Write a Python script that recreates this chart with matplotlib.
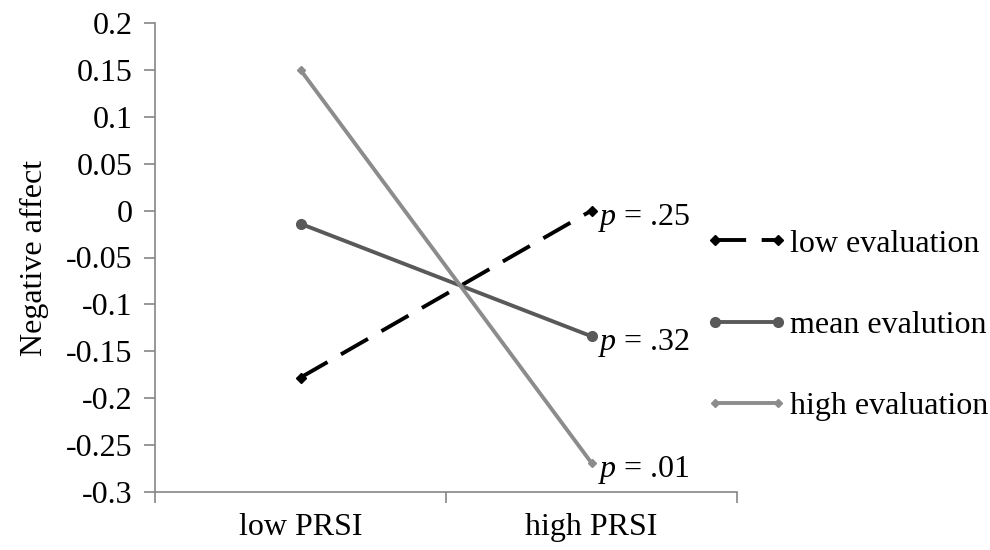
import matplotlib
matplotlib.use("Agg")
import matplotlib.pyplot as plt
from matplotlib.ticker import FixedLocator, NullFormatter

plt.rcParams['font.family'] = ['Liberation Serif', 'DejaVu Serif']
plt.rcParams['mathtext.fontset'] = 'custom'
plt.rcParams['mathtext.it'] = 'Liberation Serif:italic'
plt.rcParams['mathtext.rm'] = 'Liberation Serif'

categories = ["low PRSI", "high PRSI"]
low_eval = [-0.178, 0.0]
mean_eval = [-0.014, -0.134]
high_eval = [0.150, -0.269]
series_names = ["low evaluation", "mean evalution", "high evaluation"]
p_labels = ["$p$ = .25", "$p$ = .32", "$p$ = .01"]
yticks = [0.2, 0.15, 0.1, 0.05, 0, -0.05, -0.1, -0.15, -0.2, -0.25, -0.3]
ytick_labels = ["0.2", "0.15", "0.1", "0.05", "0", "-0.05", "-0.1", "-0.15", "-0.2", "-0.25", "-0.3"]

FS = 23
fig = plt.figure(figsize=(9.9, 5.5), dpi=100)
ax = fig.add_axes([155/990, 1-492/550, (737-155)/990, (492-23)/550])

xs = [0.5, 1.5]
lw = 2.8
l1, = ax.plot(xs, low_eval, color='black', lw=lw, dashes=(8, 4), marker='D', ms=5, label=series_names[0])
l2, = ax.plot(xs, mean_eval, color='#595959', lw=lw, marker='o', ms=7, label=series_names[1])
l3, = ax.plot(xs, high_eval, color='#8c8c8c', lw=lw, marker='D', ms=4.5, label=series_names[2])

for ser, lab in zip([low_eval, mean_eval, high_eval], p_labels):
    ax.annotate(lab, (xs[1], ser[1]), xytext=(5, -5), textcoords='offset points',
                va='center', ha='left', fontsize=FS)

ax.set_xlim(0, 2)
ax.set_ylim(-0.3, 0.2)
ax.set_yticks(yticks)
ax.set_yticklabels(ytick_labels, fontsize=FS)
ax.xaxis.set_major_locator(FixedLocator([0, 1, 2]))
ax.xaxis.set_major_formatter(NullFormatter())
ax.xaxis.set_minor_locator(FixedLocator(xs))
ax.set_xticklabels(categories, minor=True, fontsize=FS)
ax.tick_params(axis='x', which='minor', length=0, pad=15)
ax.tick_params(axis='x', which='major', length=8, width=1.2, color='#868686', direction='out')
ax.tick_params(axis='y', length=8, width=1.2, color='#868686', direction='out', pad=8)

for s in ['top', 'right']:
    ax.spines[s].set_visible(False)
for s in ['left', 'bottom']:
    ax.spines[s].set_color('#868686')
    ax.spines[s].set_linewidth(1.2)

ax.set_ylabel("Negative affect", fontsize=FS, labelpad=12)

leg = fig.legend(handles=[l1, l2, l3], loc='center left', bbox_to_anchor=(705/990, 1-325/550),
                 frameon=False, fontsize=FS, handlelength=2.6, handletextpad=0.05,
                 labelspacing=1.62, numpoints=2, borderaxespad=0, borderpad=0)

fig.savefig("out.png", dpi=100)
